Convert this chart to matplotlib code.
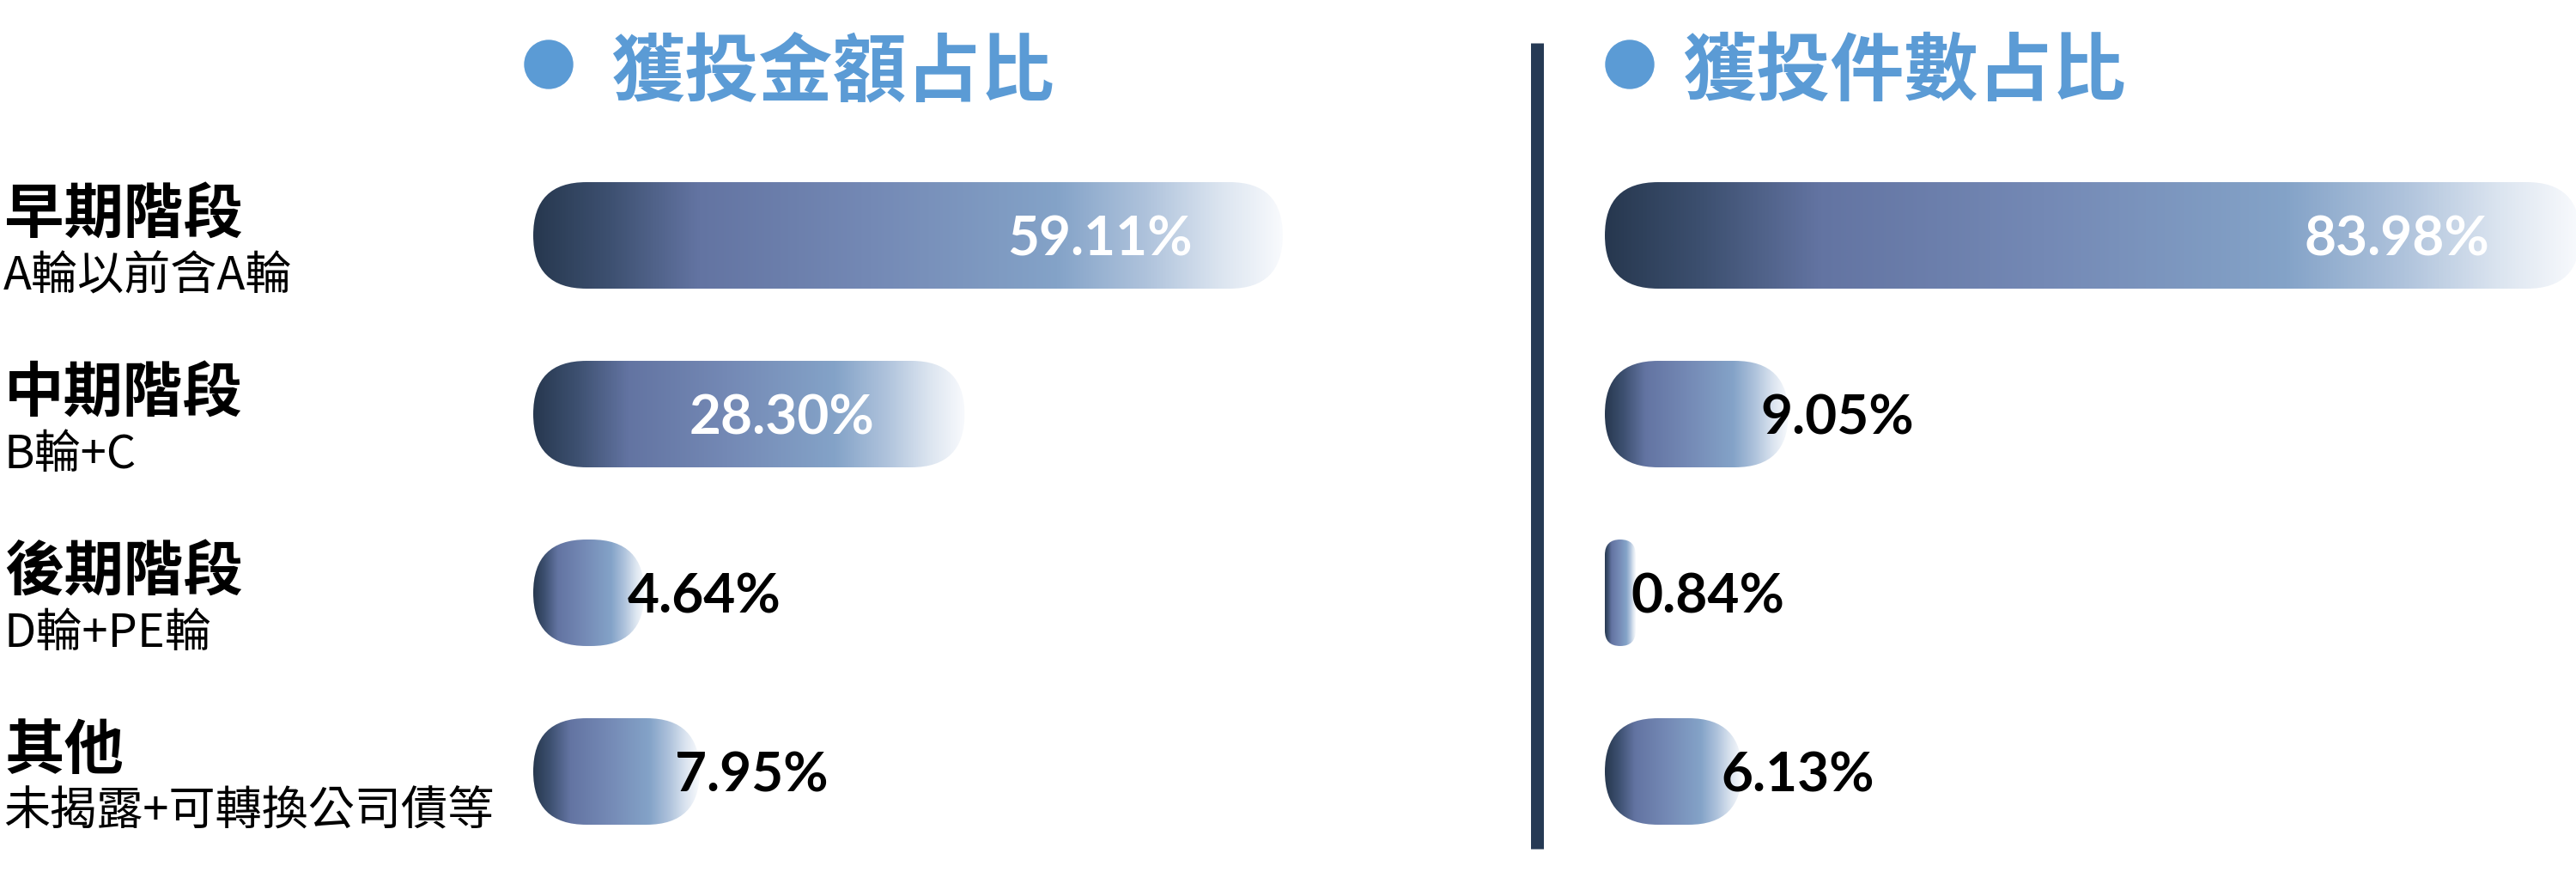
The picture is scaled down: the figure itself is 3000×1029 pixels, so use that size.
from __future__ import annotations

import matplotlib

matplotlib.use("Agg")

import matplotlib.pyplot as plt
import numpy as np
from matplotlib.colors import LinearSegmentedColormap
from matplotlib.patches import Circle, FancyBboxPatch


# ---------------------------------------------------------------------
# Data
# ---------------------------------------------------------------------

stages = ["早期階段", "中期階段", "後期階段", "其他"]
stage_notes = ["A輪以前含A輪", "B輪+C", "D輪+PE輪", "未揭露+可轉換公司債等"]

panel_titles = ["獲投金額占比", "獲投件數占比"]
amount_share = [59.11, 28.30, 4.64, 7.95]
count_share = [83.98, 9.05, 0.84, 6.13]


# ---------------------------------------------------------------------
# Style
# ---------------------------------------------------------------------

CJK = ["Noto Sans CJK TC", "DejaVu Sans"]
NUM = ["Lato", "DejaVu Sans"]
TITLE_BLUE = "#5B9BD5"
NAVY = "#263A54"

W_PX, H_PX = 3000, 1029
ROW0, ROW_STEP = 274, 208        # pixel centre of first row, row spacing
BAR_H = 0.596                    # bar thickness in row units
POWER = 0.75                     # infographic bars are compressed, not linear
XMAX = 84
PANEL_X = [621, 1869]
PANEL_W = 1136

bar_cmap = LinearSegmentedColormap.from_list(
    "pill",
    [
        (0.00, "#27384F"),
        (0.10, "#3D5070"),
        (0.22, "#6374A2"),
        (0.45, "#7489B5"),
        (0.70, "#84A3C8"),
        (0.82, "#AFC3DC"),
        (0.92, "#DCE5F0"),
        (1.00, "#F8FAFD"),
    ],
)


def fwd(x):
    return np.power(np.clip(x, 0, None), POWER)


def inv(x):
    return np.power(np.clip(x, 0, None), 1.0 / POWER)


# ---------------------------------------------------------------------
# Drawing
# ---------------------------------------------------------------------

def make_panel_axes(fig, left_px: float):
    top = ROW0 - ROW_STEP / 2
    bottom = ROW0 + ROW_STEP * (len(stages) - 0.5)
    ax = fig.add_axes([
        left_px / W_PX,
        (H_PX - bottom) / H_PX,
        PANEL_W / W_PX,
        (bottom - top) / H_PX,
    ])
    ax.set_xscale("function", functions=(fwd, inv))
    ax.set_xlim(0, XMAX)
    ax.set_ylim(len(stages) - 0.5, -0.5)
    ax.axis("off")
    return ax


def to_canvas(canvas, ax, pts):
    disp = ax.transData.transform(pts)
    return canvas.transData.inverted().transform(disp)


def draw_panel(canvas, ax, values) -> None:
    grad = np.linspace(0, 1, 512)[None, :]
    for i, v in enumerate(values):
        (x0, ya), (x1, yb) = to_canvas(
            canvas, ax, [(0, i - BAR_H / 2), (v, i + BAR_H / 2)]
        )
        y_top, y_bot = min(ya, yb), max(ya, yb)
        w, h = x1 - x0, y_bot - y_top
        r = min(w, h) / 2

        pill = FancyBboxPatch(
            (x0, y_top), w, h,
            boxstyle=f"round,pad=0,rounding_size={r}",
            facecolor="none", edgecolor="none",
        )
        canvas.add_patch(pill)
        im = canvas.imshow(
            grad, cmap=bar_cmap, extent=(x0, x1, y_bot, y_top),
            aspect="auto", interpolation="bilinear", zorder=2,
        )
        im.set_clip_path(pill)

        yc = (y_top + y_bot) / 2
        label = f"{v:.2f}%"
        if w > 300:
            canvas.text(x1 - 105, yc + 23, label, ha="right", va="baseline",
                        fontsize=46, fontweight="bold", family=NUM,
                        color="white", zorder=3)
        else:
            canvas.text(x0 + 0.85 * w, yc + 23, label, ha="left", va="baseline",
                        fontsize=46, fontweight="bold", family=NUM,
                        color="black", zorder=3)


def main() -> None:
    fig = plt.figure(figsize=(W_PX / 100, H_PX / 100), dpi=100)
    fig.patch.set_facecolor("white")

    canvas = fig.add_axes([0, 0, 1, 1])
    canvas.set_xlim(0, W_PX)
    canvas.set_ylim(H_PX, 0)
    canvas.axis("off")

    # titles with round markers
    for x_dot, x_txt, title in zip([639, 1898], [711, 1959], panel_titles):
        canvas.add_patch(Circle((x_dot, 75), 28, color=TITLE_BLUE, zorder=3))
        canvas.text(x_txt, 110, title, ha="left", va="baseline", fontsize=62,
                    fontweight="bold", family=CJK, color=TITLE_BLUE)

    # divider between the two panels
    canvas.plot([1790, 1790], [50, 988], color=NAVY, lw=15 * 0.72,
                solid_capstyle="butt", zorder=3)

    # row labels
    for i, (name, note) in enumerate(zip(stages, stage_notes)):
        yc = ROW0 + ROW_STEP * i
        canvas.text(5, yc - 3, name, ha="left", va="baseline", fontsize=50,
                    fontweight="bold", family=CJK, color="black")
        canvas.text(4, yc + 63, note, ha="left", va="baseline", fontsize=39,
                    family=CJK, color="black")

    for left_px, values in zip(PANEL_X, [amount_share, count_share]):
        ax = make_panel_axes(fig, left_px)
        draw_panel(canvas, ax, values)

    canvas.set_xlim(0, W_PX)
    canvas.set_ylim(H_PX, 0)

    fig.savefig("out.png", dpi=100, facecolor="white")
    plt.close(fig)


if __name__ == "__main__":
    main()
